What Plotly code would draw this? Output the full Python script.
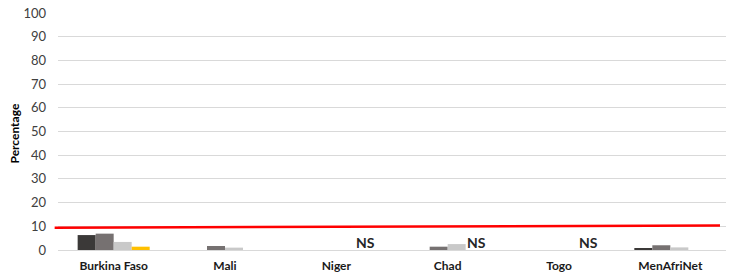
import plotly.graph_objects as go

categories = ["Burkina Faso", "Mali", "Niger", "Chad", "Togo", "MenAfriNet"]
series1 = [6.3, 0, 0, 0, 0, 0.7]
series2 = [6.9, 1.7, 0, 1.4, 0, 2.0]
series3 = [3.4, 1.0, 0, 2.5, 0, 1.1]
series4 = [1.4, 0, 0, 0, 0, 0]
ns_categories = ["Niger", "Chad", "Togo"]
ns_value = 3
threshold_start = 9.4
threshold_end = 10.3
y_ticks = [0, 10, 20, 30, 40, 50, 60, 70, 80, 90, 100]
y_title = "Percentage"

colors = ["#3b3938", "#767171", "#c9c9c9", "#ffc000"]

fig = go.Figure()
for vals, col in zip([series1, series2, series3, series4], colors):
    fig.add_trace(go.Bar(x=categories, y=vals, marker=dict(color=col, line=dict(width=0)),
                         showlegend=False))

fig.add_shape(type="line", xref="paper", yref="y", x0=-0.005, x1=0.991,
              y0=threshold_start, y1=threshold_end,
              line=dict(color="#ff0000", width=2.5))

for c in ns_categories:
    fig.add_annotation(x=c, y=ns_value, text="<b>NS</b>", showarrow=False,
                       xshift=29, yanchor="middle",
                       font=dict(family="Lato", size=14, color="#262626"))

fig.add_annotation(xref="paper", yref="paper", x=0, y=0.5, xanchor="center", yanchor="middle",
                   xshift=-44, yshift=-2, textangle=-90, showarrow=False,
                   text="<b>" + y_title + "</b>",
                   font=dict(family="Lato", size=12, color="#000000"))

fig.update_layout(
    width=737, height=272,
    margin=dict(l=58, r=11, t=13, b=22),
    paper_bgcolor="white", plot_bgcolor="white",
    barmode="group", bargap=0.353, bargroupgap=0,
    font=dict(family="Lato", color="#404040"),
)
fig.update_yaxes(range=[0, 100], tickvals=y_ticks, showgrid=True, gridcolor="#d9d9d9",
                 gridwidth=1, zeroline=False, showline=False, ticks="",
                 ticklabelstandoff=11, automargin=False,
                 tickfont=dict(family="Lato", size=13, color="#404040"))
fig.update_xaxes(showline=True, linecolor="#d9d9d9", linewidth=1, ticks="",
                 ticklabelstandoff=5, automargin=False,
                 tickfont=dict(family="Lato", size=12, color="#1a1a1a"),
                 tickprefix="<b>", ticksuffix="</b>")

fig.write_html("out.html", config={"displayModeBar": False},
               post_script="document.body.style.margin='0px';document.body.style.overflow='hidden';")
